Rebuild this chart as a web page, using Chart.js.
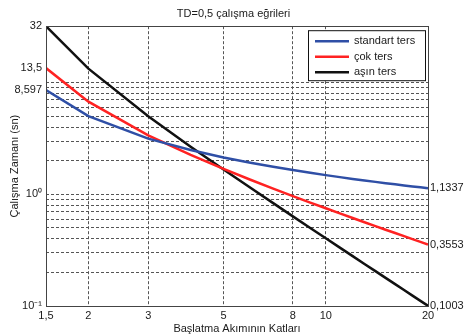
<!DOCTYPE html>
<html>
<head>
<meta charset="utf-8">
<script src="https://cdn.jsdelivr.net/npm/chart.js@4/dist/chart.umd.min.js"></script>
<style>
html,body{margin:0;padding:0;background:#fff;}
#wrap{width:467px;height:336px;position:relative;}
</style>
</head>
<body>
<div id="wrap"><canvas id="c" width="467" height="336"></canvas></div>
<script>
// Multiples of pickup current (x)
const multiples = [1.5, 2, 3, 4, 5, 6, 7, 8, 9, 10, 11, 12, 13, 14, 15, 16, 17, 18, 19, 20];
// Operating times (s), TD = 0.5
const standardInverse = [8.597, 5.015, 3.151, 2.490, 2.140, 1.919, 1.764, 1.648, 1.558, 1.485, 1.425, 1.374, 1.330, 1.292, 1.258, 1.228, 1.201, 1.176, 1.154, 1.1337];
const veryInverse = [13.5, 6.75, 3.375, 2.25, 1.6875, 1.35, 1.125, 0.9643, 0.8438, 0.75, 0.675, 0.6136, 0.5625, 0.5192, 0.4821, 0.45, 0.4219, 0.3971, 0.375, 0.3553];
const extremelyInverse = [32, 13.333, 5.0, 2.6667, 1.6667, 1.1429, 0.8333, 0.6349, 0.5, 0.4040, 0.3333, 0.2797, 0.2381, 0.2051, 0.1786, 0.1569, 0.1389, 0.1238, 0.1111, 0.1003];
const seriesNames = ['standart ters', 'çok ters', 'aşın ters'];

const xTicks = [1.5, 2, 3, 5, 8, 10, 20];
const xTickLabels = ['1,5', '2', '3', '5', '8', '10', '20'];
const yGridValues = [0.1, 0.2, 0.3, 0.4, 0.5, 0.6, 0.7, 0.8, 0.9, 1, 2, 3, 4, 5, 6, 7, 8, 9, 10];
const yLabelValues = [0.1, 1, 8.597, 13.5, 32];
const yLabelTexts = ['10\u207B\u00B9', '10\u2070', '8,597', '13,5', '32'];
const rightValues = [0.1003, 0.3553, 1.1337];
const rightLabels = ['0,1003', '0,3553', '1,1337'];

const colors = ['#2f4fa6', '#ff2222', '#111111'];
const FONT = 'Liberation Sans, Arial, sans-serif';
const TEXT = '#1a1a1a';

function pts(ys){ return multiples.map((x,i)=>({x:x, y:ys[i]})); }

const allY = Array.from(new Set(yGridValues.concat(yLabelValues))).sort((a,b)=>a-b);

const frameAndLegend = {
  id:'frameAndLegend',
  afterDraw(chart){
    const {ctx, chartArea:a} = chart;
    ctx.save();
    ctx.strokeStyle = '#444';
    ctx.lineWidth = 1;
    ctx.setLineDash([]);
    ctx.strokeRect(Math.round(a.left)+0.5, Math.round(a.top)+0.5, Math.round(a.right-a.left), Math.round(a.bottom-a.top));
    // legend box
    const bx = a.right - 120, by = a.top + 4, bw = 117, bh = 50;
    ctx.fillStyle = '#fff';
    ctx.fillRect(bx, by, bw, bh);
    ctx.strokeStyle = '#111';
    ctx.strokeRect(bx+0.5, by+0.5, bw, bh);
    ctx.font = '11px ' + FONT;
    ctx.textBaseline = 'middle';
    chart.data.datasets.forEach((ds,i)=>{
      const yy = by + 11 + i*15.5;
      ctx.strokeStyle = ds.borderColor;
      ctx.lineWidth = 2.5;
      ctx.beginPath();
      ctx.moveTo(bx+7, yy); ctx.lineTo(bx+41, yy);
      ctx.stroke();
      ctx.fillStyle = TEXT;
      ctx.fillText(ds.label, bx+46, yy);
    });
    ctx.restore();
  }
};

new Chart(document.getElementById('c'), {
  type:'line',
  data:{
    datasets:[
      {label:seriesNames[0], data:pts(standardInverse), borderColor:colors[0], borderWidth:2.5, pointRadius:0, tension:0, yAxisID:'y'},
      {label:seriesNames[1], data:pts(veryInverse), borderColor:colors[1], borderWidth:2.5, pointRadius:0, tension:0, yAxisID:'y'},
      {label:seriesNames[2], data:pts(extremelyInverse), borderColor:colors[2], borderWidth:2.5, pointRadius:0, tension:0, yAxisID:'y'}
    ]
  },
  options:{
    responsive:false,
    animation:false,
    layout:{padding:{top:0,right:0,bottom:0,left:0}},
    plugins:{
      legend:{display:false},
      tooltip:{enabled:false},
      title:{display:true, text:'TD=0,5 çalışma eğrileri', color:TEXT, font:{family:FONT, size:11, weight:'normal'}, padding:{top:7, bottom:6}}
    },
    scales:{
      x:{
        type:'logarithmic', min:1.5, max:20, bounds:'data',
        afterBuildTicks(s){ s.ticks = xTicks.map(v=>({value:v})); },
        afterFit(s){ s.height = 30; },
        ticks:{autoSkip:false, maxRotation:0, padding:3, color:TEXT, font:{family:FONT, size:11},
          callback(v){ const i = xTicks.indexOf(v); return i>=0 ? xTickLabels[i] : ''; }},
        grid:{drawTicks:false, lineWidth:1,
          color(ctx){ const v = ctx.tick && ctx.tick.value; return (v===1.5||v===20) ? 'rgba(0,0,0,0)' : '#555'; }},
        border:{display:false, dash:[3,2]},
        title:{display:true, text:'Başlatma Akımının Katları', color:TEXT, font:{family:FONT, size:11}, padding:{top:-2, bottom:0}}
      },
      y:{
        type:'logarithmic', position:'left', min:0.1, max:32, bounds:'data',
        afterBuildTicks(s){ s.ticks = allY.map(v=>({value:v})); },
        afterFit(s){ s.width = 46; },
        ticks:{autoSkip:false, padding:4, color:TEXT, font:{family:FONT, size:11},
          callback(v){ const i = yLabelValues.indexOf(v); return i>=0 ? yLabelTexts[i] : ''; }},
        grid:{drawTicks:false, lineWidth:1,
          color(ctx){ const v = ctx.tick && ctx.tick.value; return (yGridValues.indexOf(v)>=0 && v!==0.1) ? '#555' : 'rgba(0,0,0,0)'; }},
        border:{display:false, dash:[3,2]},
        title:{display:true, text:'Çalışma Zamanı (sn)', color:TEXT, font:{family:FONT, size:11}, padding:{top:8,bottom:0}}
      },
      y2:{
        type:'logarithmic', position:'right', min:0.1, max:32, bounds:'data',
        afterBuildTicks(s){ s.ticks = rightValues.map(v=>({value:v})); },
        afterFit(s){ s.width = 39; },
        ticks:{autoSkip:false, padding:2, color:TEXT, font:{family:FONT, size:11},
          callback(v){ const i = rightValues.indexOf(v); return i>=0 ? rightLabels[i] : ''; }},
        grid:{display:false, drawTicks:false},
        border:{display:false}
      }
    }
  },
  plugins:[frameAndLegend]
});
</script>
</body>
</html>
